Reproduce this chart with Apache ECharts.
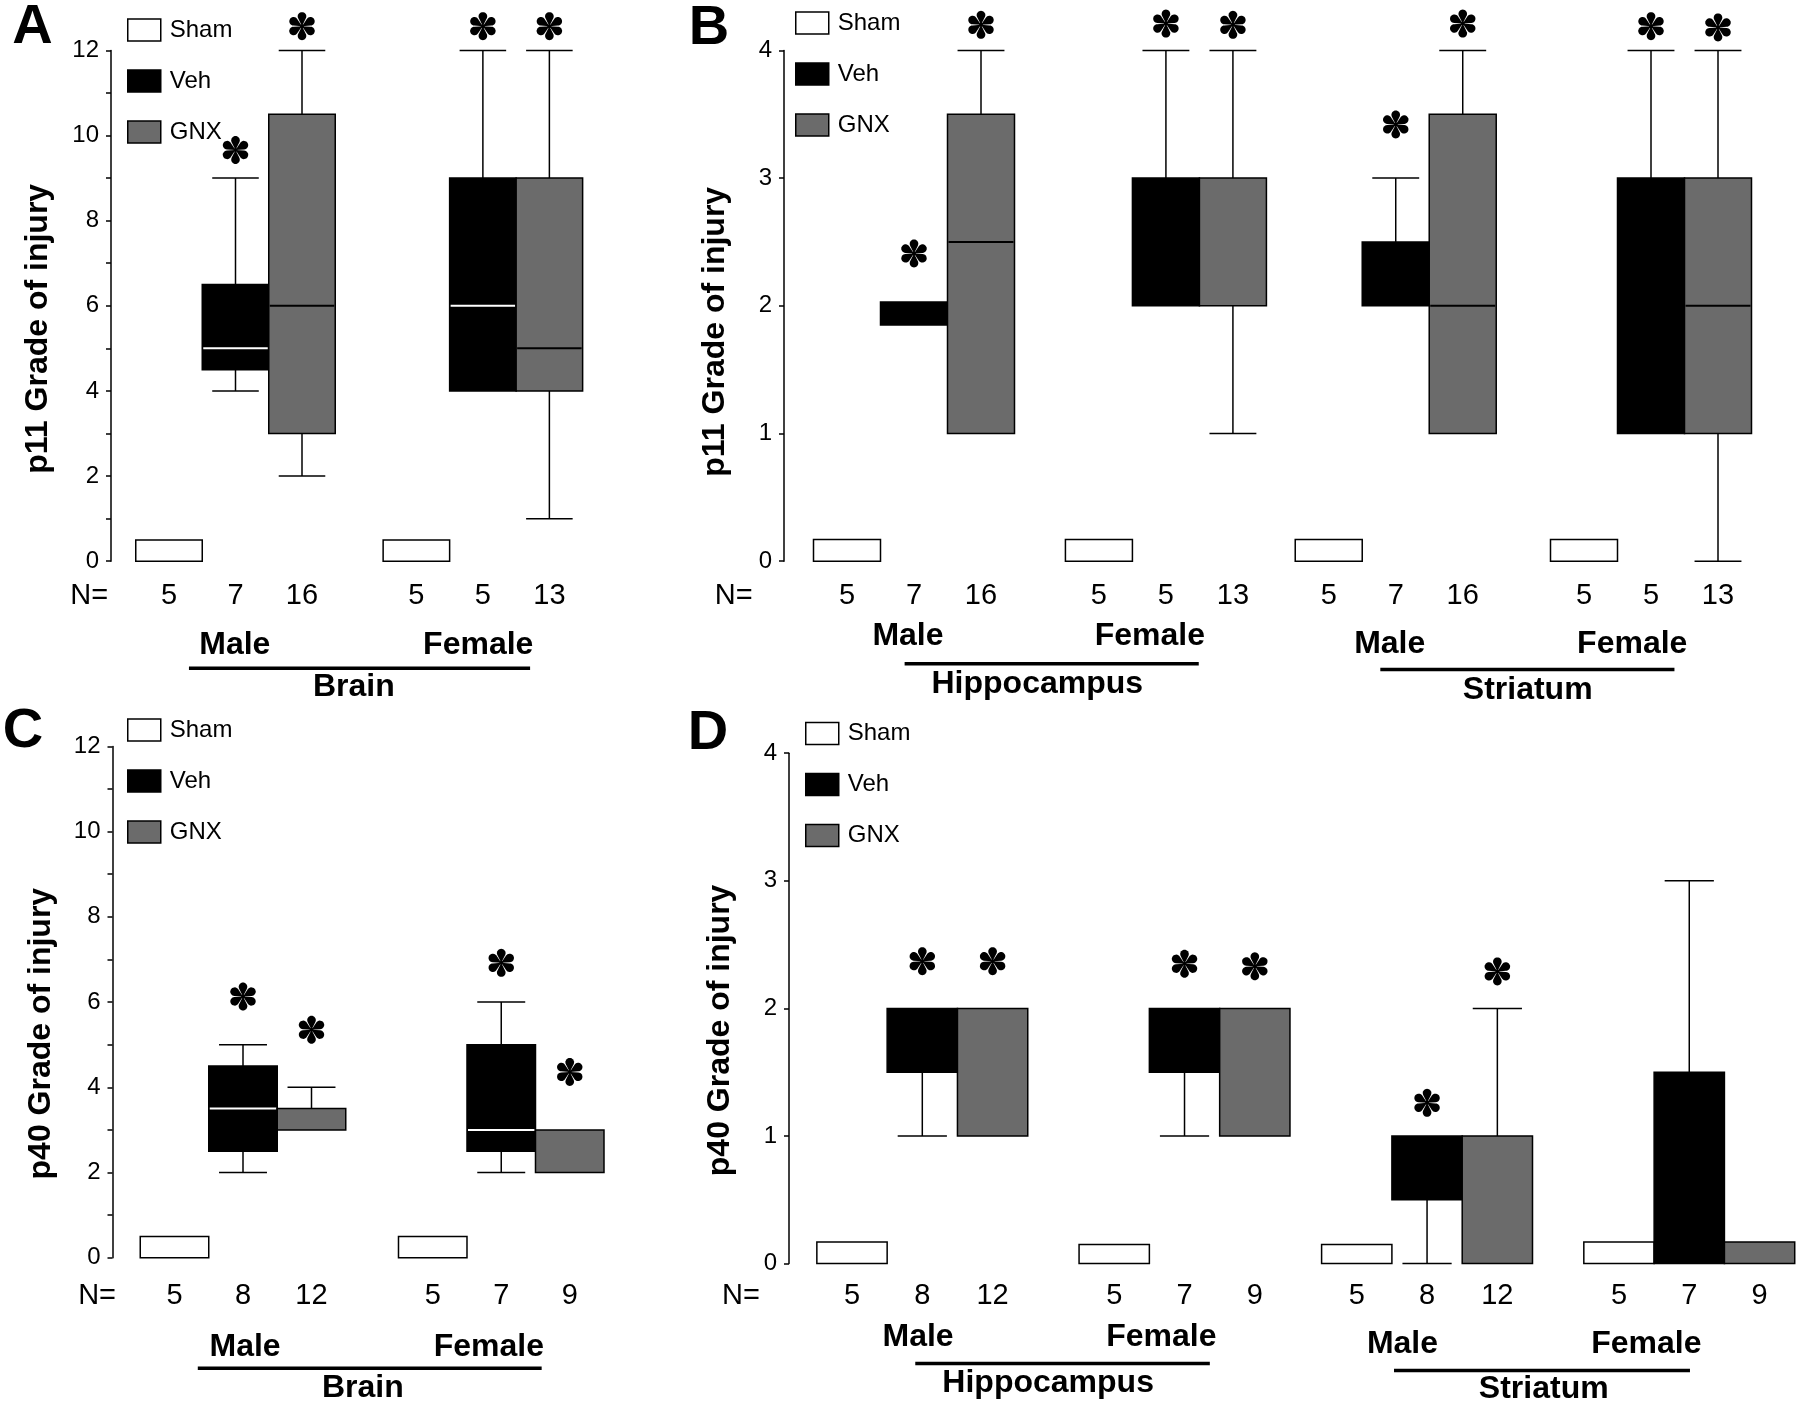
<!DOCTYPE html>
<html><head><meta charset="utf-8">
<script src="https://cdn.jsdelivr.net/npm/echarts@6/dist/echarts.min.js"></script>
<style>html,body{margin:0;padding:0;background:#fff}#c{width:1800px;height:1407px}</style>
</head><body><div id="c"></div><script>
// ---------------- data ----------------
const treatments = ['Sham', 'Veh', 'GNX'];
const sexes = ['Male', 'Female'];
// each box: [min, Q1, median, Q3, max]; order: Male Sham, Veh, GNX, Female Sham, Veh, GNX
const brainP11Box = [[0,0,0,0.5,0.5],[4,4.5,5,6.5,9],[2,3,6,10.5,12],[0,0,0,0.5,0.5],[4,4,6,9,12],[1,4,5,9,12]];
const brainP11N = [5,7,16,5,5,13];
const brainP11Star = [null,9.66,12.57,null,12.57,12.57];

const hippoP11Box = [[0,0,0,0.17,0.17],[1.85,1.85,1.85,2.03,2.03],[1,1,2.5,3.5,4],[0,0,0,0.17,0.17],[2,2,2,3,4],[1,2,2,3,4]];
const hippoP11N = [5,7,16,5,5,13];
const hippoP11Star = [null,2.41,4.2,null,4.21,4.2];

const striatP11Box = [[0,0,0,0.17,0.17],[2,2,2,2.5,3],[1,1,2,3.5,4],[0,0,0,0.17,0.17],[1,1,1,3,4],[0,1,2,3,4]];
const striatP11N = [5,7,16,5,5,13];
const striatP11Star = [null,3.42,4.21,null,4.19,4.18];

const brainP40Box = [[0,0,0,0.5,0.5],[2,2.5,3.5,4.5,5],[3,3,3.5,3.5,4],[0,0,0,0.5,0.5],[2,2.5,3,5,6],[2,2,2,3,3]];
const brainP40N = [5,8,12,5,7,9];
const brainP40Star = [null,6.13,5.35,null,6.92,4.36];

const hippoP40Box = [[0,0,0,0.17,0.17],[1,1.5,1.5,2,2],[1,1,1,2,2],[0,0,0,0.15,0.15],[1,1.5,1.5,2,2],[1,1,1,2,2]];
const hippoP40N = [5,8,12,5,7,9];
const hippoP40Star = [null,2.37,2.37,null,2.35,2.33];

const striatP40Box = [[0,0,0,0.15,0.15],[0,0.5,0.5,1,1],[0,0,0,1,2],[0,0,0,0.17,0.17],[0,0,0,1.5,3],[0,0,0,0.17,0.17]];
const striatP40N = [5,8,12,5,7,9];
const striatP40Star = [null,1.26,2.29,null,null,null];

const yTitles = ['p11 Grade of injury', 'p11 Grade of injury', 'p40 Grade of injury', 'p40 Grade of injury'];
const panelLetters = ['A', 'B', 'C', 'D'];

// ---------------- layout / style ----------------
const FONT = '"Liberation Sans", Arial, Helvetica, sans-serif';
const GRAY = '#6b6b6b';
const fills = ['#ffffff', '#000000', GRAY];
const medianColors = ['#000000', '#ffffff', '#000000'];

const panels = [
  { ymax:12, interval:2, minor:true,
    axisPx:111, slot0Px:169, spacingPx:66.5, rightPx:600, topPx:50.4, zeroPx:561.2,
    groupStart:[0,3.72], legend:[127,18], letter:[32.5,28], titleGap:57, titleShift:23,
    nEqSlot:-1.2, nDy:34.5,
    regions:[{name:'Brain', box:brainP11Box, n:brainP11N, star:brainP11Star,
      maleSlot:0.99, femaleSlot:4.65, sexDy:84, line:[0.30,5.43], lineDy:107, nameSlot:2.78, nameDy:126}] },
  { ymax:4, interval:1, minor:false,
    axisPx:784, slot0Px:847, spacingPx:67, rightPx:1795, topPx:50.4, zeroPx:561.2,
    groupStart:[0,3.76,7.19,11.0], legend:[795,11], letter:[709,29], titleGap:53, titleShift:26,
    nEqSlot:-1.69, nDy:34.5,
    regions:[
      {name:'Hippocampus', box:hippoP11Box, n:hippoP11N, star:hippoP11Star,
        maleSlot:0.91, femaleSlot:4.52, sexDy:75, line:[0.86,5.25], lineDy:102.6, nameSlot:2.84, nameDy:123},
      {name:'Striatum', box:striatP11Box, n:striatP11N, star:striatP11Star,
        maleSlot:8.10, femaleSlot:11.72, sexDy:83, line:[7.96,12.35], lineDy:108.4, nameSlot:10.16, nameDy:129}] },
  { ymax:12, interval:2, minor:true,
    axisPx:112.5, slot0Px:174.5, spacingPx:68.5, rightPx:640, topPx:746.4, zeroPx:1257.7,
    groupStart:[0,3.77], legend:[127,718], letter:[23,731.5], titleGap:55, titleShift:31.6,
    nEqSlot:-1.13, nDy:38,
    regions:[{name:'Brain', box:brainP40Box, n:brainP40N, star:brainP40Star,
      maleSlot:1.03, femaleSlot:4.59, sexDy:89, line:[0.34,5.36], lineDy:110.5, nameSlot:2.75, nameDy:130}] },
  { ymax:4, interval:1, minor:false,
    axisPx:789, slot0Px:852, spacingPx:70.3, rightPx:1800, topPx:753.2, zeroPx:1263.6,
    groupStart:[0,3.73,7.18,10.91], legend:[805,721.6], letter:[708,733.8], titleGap:53, titleShift:22,
    nEqSlot:-1.58, nDy:32.6,
    regions:[
      {name:'Hippocampus', box:hippoP40Box, n:hippoP40N, star:hippoP40Star,
        maleSlot:0.94, femaleSlot:4.40, sexDy:73.7, line:[0.90,5.09], lineDy:100, nameSlot:2.79, nameDy:119.4},
      {name:'Striatum', box:striatP40Box, n:striatP40N, star:striatP40Star,
        maleSlot:7.83, femaleSlot:11.30, sexDy:81, line:[7.71,11.92], lineDy:106.8, nameSlot:9.84, nameDy:126}] }
];

function starShapes(cx, cy) {
  const R = 14, rb = 4.3, c0 = R - rb;
  const th0 = Math.PI - Math.acos(rb / c0);
  const out = [{type:'circle', shape:{cx:cx, cy:cy, r:2}, style:{fill:'#000'}}];
  for (let k = 0; k < 6; k++) {
    const phi = -Math.PI / 2 + k * Math.PI / 3;
    const cs = Math.cos(phi), sn = Math.sin(phi);
    const pts = [[cx, cy]];
    for (let i = 0; i <= 18; i++) {
      const th = -th0 + 2 * th0 * i / 18;
      const u = c0 + rb * Math.cos(th), v = rb * Math.sin(th);
      pts.push([cx + u * cs - v * sn, cy + u * sn + v * cs]);
    }
    out.push({type:'polygon', shape:{points:pts}, style:{fill:'#000'}});
  }
  return out;
}

function txt(text, x, y, size, bold) {
  return {type:'text', x:x, y:y, style:{text:text, fill:'#000',
    font:(bold ? 'bold ' : '') + size + 'px ' + FONT,
    align:'center', verticalAlign:'middle', textAlign:'center', textVerticalAlign:'middle'}};
}

function makeBoxSeries(pi, t) {
  const P = panels[pi];
  const data = [], stars = [];
  P.regions.forEach((R, r) => {
    [0, 1].forEach(si => {
      const k = si * 3 + t;
      const b = R.box[k];
      data.push([P.groupStart[r * 2 + si] + t, b[0], b[1], b[2], b[3], b[4]]);
      stars.push(R.star[k]);
    });
  });
  return {
    type:'custom', name:treatments[t], xAxisIndex:pi, yAxisIndex:pi, data:data,
    clip:false, silent:true, z:2 + t,
    encode:{x:0, y:[1,2,3,4,5]},
    itemStyle:{color:fills[t], borderColor:'#000', borderWidth:1.5},
    renderItem: function (params, api) {
      const x = api.value(0), mn = api.value(1), q1 = api.value(2), md = api.value(3), q3 = api.value(4), mx = api.value(5);
      const half = 0.5, cap = 0.35;
      const c = [];
      const L = (a, b, col, w) => ({type:'line', shape:{x1:a[0], y1:a[1], x2:b[0], y2:b[1]}, style:{stroke:col || '#000', lineWidth:w || 1.5}});
      if (mx > q3) {
        c.push(L(api.coord([x, q3]), api.coord([x, mx])));
        c.push(L(api.coord([x - cap, mx]), api.coord([x + cap, mx])));
      }
      if (mn < q1) {
        c.push(L(api.coord([x, q1]), api.coord([x, mn])));
        c.push(L(api.coord([x - cap, mn]), api.coord([x + cap, mn])));
      }
      const tl = api.coord([x - half, q3]), br = api.coord([x + half, q1]);
      c.push({type:'rect', shape:{x:tl[0], y:tl[1], width:br[0] - tl[0], height:br[1] - tl[1]},
        style:{fill:fills[t], stroke:'#000', lineWidth:1.5}});
      if (md > q1 && md < q3) {
        const a = api.coord([x - half, md]), b = api.coord([x + half, md]);
        c.push(L([a[0] + 1, a[1]], [b[0] - 1, b[1]], medianColors[t], 2));
      }
      const s = stars[params.dataIndex];
      if (s !== null && s !== undefined) {
        const p = api.coord([x, s]);
        starShapes(p[0], p[1]).forEach(e => c.push(e));
      }
      return {type:'group', children:c};
    }
  };
}

function makeAnnoSeries(pi) {
  const P = panels[pi];
  return {
    type:'custom', xAxisIndex:pi, yAxisIndex:pi, data:[[0, 0]], clip:false, silent:true, z:10,
    encode:{x:0, y:1},
    renderItem: function (params, api) {
      const c = [];
      const at = (slot, dy, text, size, bold) => { const p = api.coord([slot, 0]); return txt(text, p[0], p[1] + dy, size, bold); };
      c.push(at(P.nEqSlot, P.nDy, 'N=', 29, false));
      P.regions.forEach((R, r) => {
        [0, 1].forEach(si => {
          treatments.forEach((tn, t) => {
            c.push(at(P.groupStart[r * 2 + si] + t, P.nDy, String(R.n[si * 3 + t]), 29, false));
          });
        });
        c.push(at(R.maleSlot, R.sexDy, sexes[0], 32, true));
        c.push(at(R.femaleSlot, R.sexDy, sexes[1], 32, true));
        const a = api.coord([R.line[0], 0]), b = api.coord([R.line[1], 0]);
        c.push({type:'line', shape:{x1:a[0], y1:a[1] + R.lineDy, x2:b[0], y2:b[1] + R.lineDy}, style:{stroke:'#000', lineWidth:3.5}});
        c.push(at(R.nameSlot, R.nameDy, R.name, 32, true));
      });
      return {type:'group', children:c};
    }
  };
}

const grids = [], xAxes = [], yAxes = [], series = [], legends = [], graphics = [];
panels.forEach((P, pi) => {
  grids.push({left:P.axisPx, top:P.topPx, width:P.rightPx - P.axisPx, height:P.zeroPx - P.topPx,
    containLabel:false, outerBoundsMode:'none'});
  xAxes.push({type:'value', gridIndex:pi, show:false,
    min:(P.axisPx - P.slot0Px) / P.spacingPx, max:(P.rightPx - P.slot0Px) / P.spacingPx});
  yAxes.push({type:'value', gridIndex:pi, min:0, max:P.ymax, interval:P.interval, position:'left',
    axisLine:{show:true, onZero:false, lineStyle:{color:'#000', width:1.5}},
    axisTick:{show:true, length:5, lineStyle:{color:'#000', width:1.5}},
    minorTick:{show:P.minor, splitNumber:2, length:5, lineStyle:{color:'#000', width:1.5}},
    splitLine:{show:false}, minorSplitLine:{show:false},
    axisLabel:{fontSize:24, color:'#000', fontFamily:FONT, margin:12},
    name:yTitles[pi], nameLocation:'middle', nameGap:P.titleGap, nameMoveOverlap:false,
    nameTextStyle:{fontSize:32, fontWeight:'bold', color:'#000', fontFamily:FONT, padding:[0, P.titleShift * 2, 0, 0]}});
  treatments.forEach((tn, t) => series.push(makeBoxSeries(pi, t)));
  series.push(makeAnnoSeries(pi));
  legends.push({orient:'vertical', left:P.legend[0], top:P.legend[1], padding:0,
    itemWidth:33, itemHeight:22, itemGap:27, selectedMode:false,
    textStyle:{fontSize:24, color:'#000', fontFamily:FONT, lineHeight:22, padding:[0,0,0,4]},
    data:treatments.map((tn, t) => ({name:tn, icon:'rect',
      itemStyle:{color:fills[t], borderColor:'#000', borderWidth:1.5}}))});
  graphics.push({type:'text', x:P.letter[0], y:P.letter[1],
    style:{text:panelLetters[pi], fill:'#000', font:'bold 56px ' + FONT,
      textAlign:'center', textVerticalAlign:'middle', align:'center', verticalAlign:'middle'}});
});

const chart = echarts.init(document.getElementById('c'), null, {renderer:'canvas'});
chart.setOption({
  backgroundColor:'#ffffff',
  animation:false,
  grid:grids, xAxis:xAxes, yAxis:yAxes, legend:legends, series:series,
  graphic:{elements:graphics}
});
</script></body></html>
